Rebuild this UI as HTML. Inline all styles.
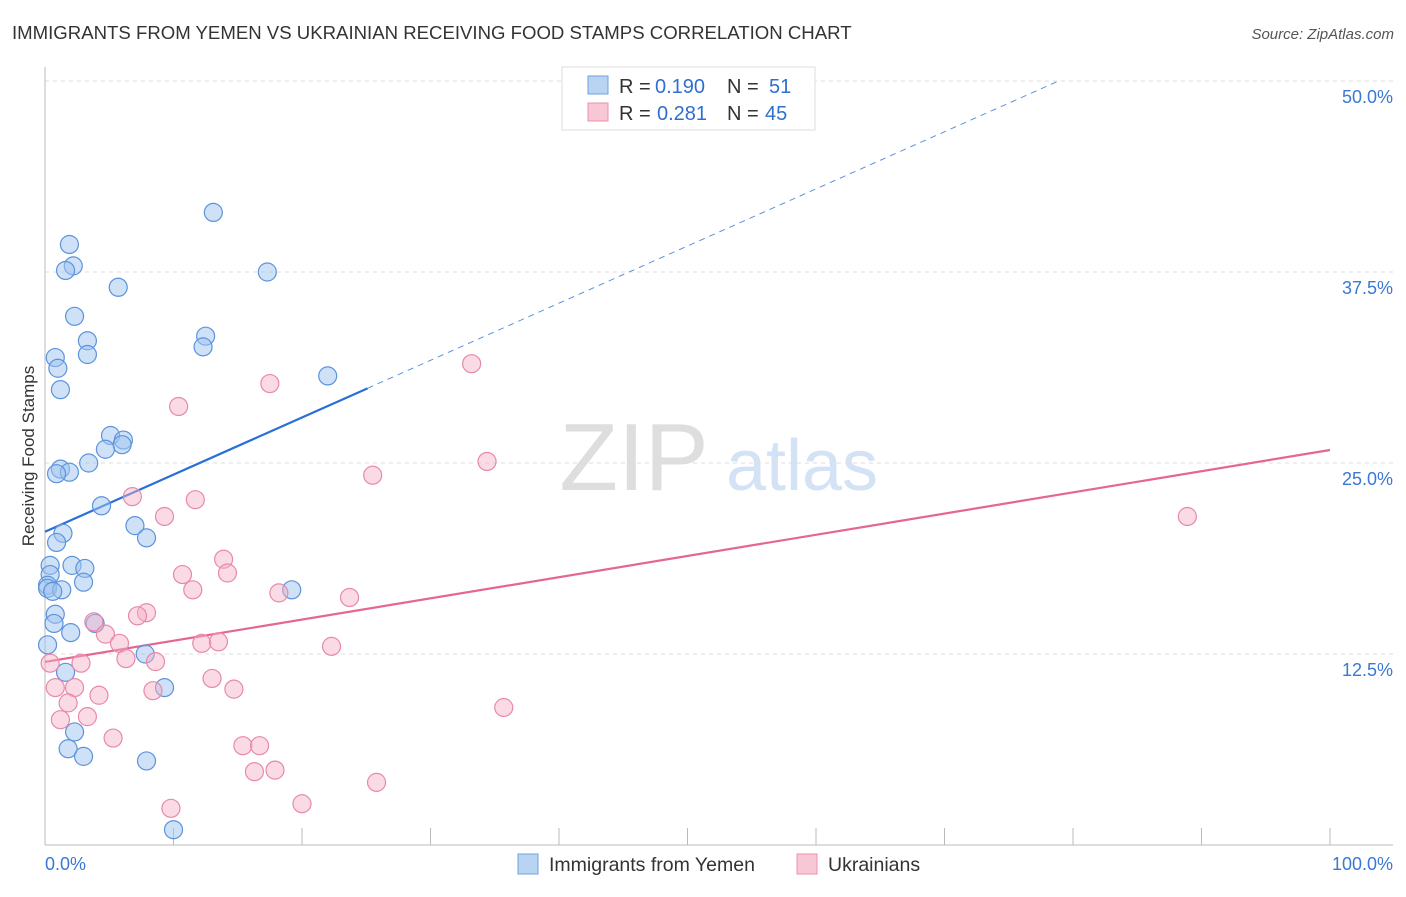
<!DOCTYPE html>
<html><head><meta charset="utf-8"><style>
body{margin:0;background:#fff;font-family:"Liberation Sans",sans-serif;}
svg text{font-family:"Liberation Sans",sans-serif;}
</style></head><body>
<svg id="chart" width="1406" height="892" xmlns="http://www.w3.org/2000/svg">
<text x="12" y="39" font-size="18.6" fill="#333">IMMIGRANTS FROM YEMEN VS UKRAINIAN RECEIVING FOOD STAMPS CORRELATION CHART</text>
<text x="1394" y="39" font-size="15" fill="#555" font-style="italic" text-anchor="end">Source: ZipAtlas.com</text>
<text x="34" y="456" font-size="17" fill="#333" text-anchor="middle" transform="rotate(-90 34 456)">Receiving Food Stamps</text>
<g><text x="634" y="490" font-size="96" fill="#dedede" font-family="Liberation Serif" text-anchor="middle">ZIP</text><text x="802" y="490" font-size="72" fill="#d3e2f5" text-anchor="middle">atlas</text></g>
<g id="grid"></g><g id="axes"></g><g id="lines"></g><g id="pts"></g>
<g>
<rect x="562" y="67" width="253" height="63" fill="#fff" stroke="#ddd"/>
<rect x="588" y="76" width="20" height="18" fill="#b9d3f3" stroke="#6fa0e0"/>
<text x="619" y="93" font-size="20" fill="#333">R =</text><text x="655" y="93" font-size="20" fill="#2f6fd0">0.190</text>
<text x="727" y="93" font-size="20" fill="#333">N =</text><text x="769" y="93" font-size="20" fill="#2f6fd0">51</text>
<rect x="588" y="103" width="20" height="18" fill="#f8c7d5" stroke="#ec8fab"/>
<text x="619" y="120" font-size="20" fill="#333">R =</text><text x="657" y="120" font-size="20" fill="#2f6fd0">0.281</text>
<text x="727" y="120" font-size="20" fill="#333">N =</text><text x="765" y="120" font-size="20" fill="#2f6fd0">45</text>
</g>
<g>
<rect x="518" y="854" width="20" height="20" fill="#b9d3f3" stroke="#6fa0e0"/>
<text x="549" y="871" font-size="19.5" fill="#333">Immigrants from Yemen</text>
<rect x="797" y="854" width="20" height="20" fill="#f8c7d5" stroke="#ec8fab"/>
<text x="828" y="871" font-size="19.5" fill="#333">Ukrainians</text>
</g>
<text x="45" y="870" font-size="18" fill="#3a78d4">0.0%</text>
<text x="1393" y="870" font-size="18" fill="#3a78d4" text-anchor="end">100.0%</text>
</svg>
<script>
const yTicks=[12.5,25,37.5,50];
const yTickLabels=["12.5%","25.0%","37.5%","50.0%"];
const blueX=[13.1,1.9,2.2,1.6,17.3,5.7,2.3,12.5,3.3,12.3,3.3,0.8,1.0,22.0,1.2,5.1,6.1,6.0,4.7,3.4,1.2,1.9,0.9,4.4,7.0,1.4,7.9,0.9,2.1,3.1,0.4,0.4,3.0,0.2,0.2,1.3,0.6,19.2,0.8,0.7,3.9,2.0,0.2,7.8,1.6,9.3,2.3,1.8,3.0,7.9,10.0];
const blueY=[41.4,39.3,37.9,37.6,37.5,36.5,34.6,33.3,33.0,32.6,32.1,31.9,31.2,30.7,29.8,26.8,26.5,26.2,25.9,25.0,24.6,24.4,24.3,22.2,20.9,20.4,20.1,19.8,18.3,18.1,18.3,17.7,17.2,17.0,16.8,16.7,16.6,16.7,15.1,14.5,14.5,13.9,13.1,12.5,11.3,10.3,7.4,6.3,5.8,5.5,1.0];
const pinkX=[33.2,17.5,10.4,34.4,25.5,6.8,11.7,9.3,88.9,13.9,10.7,14.2,11.5,18.2,23.7,7.9,7.2,3.8,4.7,5.8,12.2,13.5,22.3,8.6,6.3,2.8,0.4,13.0,0.8,2.3,8.4,14.7,4.2,1.8,1.2,3.3,35.7,5.3,15.4,16.7,16.3,17.9,25.8,20.0,9.8];
const pinkY=[31.5,30.2,28.7,25.1,24.2,22.8,22.6,21.5,21.5,18.7,17.7,17.8,16.7,16.5,16.2,15.2,15.0,14.6,13.8,13.2,13.2,13.3,13.0,12.0,12.2,11.9,11.9,10.9,10.3,10.3,10.1,10.2,9.8,9.3,8.2,8.4,9.0,7.0,6.5,6.5,4.8,4.9,4.1,2.7,2.4];
const blueFit=[20.5,0.374];
const pinkFit=[11.98,0.1387];
const xTicks=[0,10,20,30,40,50,60,70,80,90,100];

const NS="http://www.w3.org/2000/svg";
const X0=45,X1=1330,Y0=845,PPY=15.28;
const sx=v=>X0+(X1-X0)*v/100;
const sy=v=>Y0-v*PPY;
function mk(tag,attrs,parent){const e=document.createElementNS(NS,tag);for(const k in attrs)e.setAttribute(k,attrs[k]);document.getElementById(parent).appendChild(e);return e;}

yTicks.forEach((t,i)=>{
 const l=mk('line',{x1:45,x2:1393,y1:sy(t),y2:sy(t),stroke:'#ddd','stroke-dasharray':'4,4'},'grid');
 
 
 const tx=mk('text',{x:1393,y:sy(t)+22,'font-size':18,fill:'#3a78d4','text-anchor':'end'},'grid');
 tx.textContent=yTickLabels[i];
 
 
});
const ax=mk('line',{x1:45,x2:45,y1:67,y2:845,stroke:'#bbb'},'axes');


const bx=mk('line',{x1:45,x2:1393,y1:845,y2:845,stroke:'#bbb'},'axes');


xTicks.forEach(t=>{
 const tk=mk('line',{x1:sx(t),x2:sx(t),y1:828,y2:845,stroke:'#bbb'},'axes');
 
 
});

function pts(xs,ys,fill,stroke,name){
 xs.forEach((x,i)=>{
  const c=mk('circle',{cx:sx(x),cy:sy(ys[i]),r:9,fill:fill,stroke:stroke,'stroke-width':1.2},'pts');
  
  
 });
}
pts(blueX,blueY,'rgba(160,196,240,0.5)','#5b93dc','point-yemen');
pts(pinkX,pinkY,'rgba(245,175,198,0.45)','#e889a8','point-ukrainian');

const bEnd=25.1;
const bl=mk('line',{x1:sx(0),y1:sy(blueFit[0]),x2:sx(bEnd),y2:sy(blueFit[0]+blueFit[1]*bEnd),stroke:'#2a6fd6','stroke-width':2.2},'lines');


const dEnd=(50-blueFit[0])/blueFit[1];
const bd=mk('line',{x1:sx(bEnd),y1:sy(blueFit[0]+blueFit[1]*bEnd),x2:sx(dEnd),y2:sy(50),stroke:'#5b93dc','stroke-width':1,'stroke-dasharray':'6,5'},'lines');


const pl=mk('line',{x1:sx(0),y1:sy(pinkFit[0]),x2:sx(100),y2:sy(pinkFit[0]+pinkFit[1]*100),stroke:'#e5668f','stroke-width':2.2},'lines');


</script>
</body></html>
